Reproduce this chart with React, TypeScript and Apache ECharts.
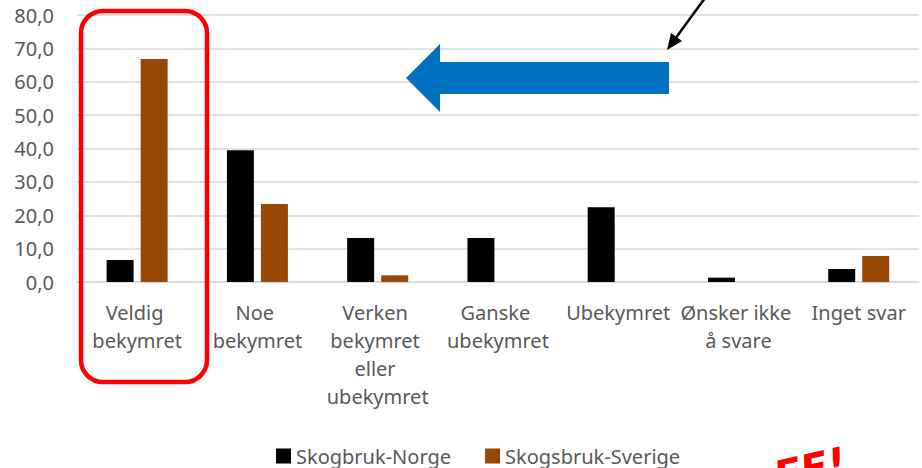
import React, { useEffect, useRef } from "react";
import * as echarts from "echarts";

const categories = [
  "Veldig bekymret",
  "Noe bekymret",
  "Verken bekymret eller ubekymret",
  "Ganske ubekymret",
  "Ubekymret",
  "Ønsker ikke å svare",
  "Inget svar",
];
const norge = [6.6, 39.5, 13.2, 13.2, 22.4, 1.3, 3.9];
const sverige = [66.8, 23.4, 2.0, null, null, null, 7.8];
const seriesNames = ["Skogbruk-Norge", "Skogsbruk-Sverige"];

const FONT = "'Noto Sans', 'Open Sans', sans-serif";
const TEXT = "#595959";

export default function App() {
  const ref = useRef<HTMLDivElement>(null);
  useEffect(() => {
    if (!ref.current) return;
    const chart = echarts.init(ref.current, null, { renderer: "svg" });
    chart.setOption({
      animation: false,
      textStyle: { fontFamily: FONT },
      grid: { left: 77, right: 0, top: 15, bottom: 186 },
      legend: {
        left: 271,
        top: 441,
        itemWidth: 15,
        itemHeight: 15,
        itemGap: 34,
        icon: "rect",
        textStyle: { fontSize: 20, color: TEXT, fontFamily: FONT },
        data: seriesNames,
      },
      xAxis: {
        type: "category",
        data: categories,
        axisLine: { lineStyle: { color: "#d9d9d9", width: 1.5 } },
        axisTick: { show: false },
        axisLabel: {
          interval: 0,
          fontSize: 20,
          lineHeight: 28,
          color: TEXT,
          margin: 16,
          width: 121,
          overflow: "break",
          fontFamily: FONT,
        },
      },
      yAxis: {
        type: "value",
        min: 0,
        max: 80,
        interval: 10,
        axisLine: { show: false },
        axisTick: { show: false },
        splitLine: { lineStyle: { color: "#d9d9d9", width: 1.5 } },
        axisLabel: {
          fontSize: 20,
          color: TEXT,
          margin: 23,
          fontFamily: FONT,
          formatter: (v: number) => v.toFixed(1).replace(".", ","),
        },
      },
      series: [
        {
          name: seriesNames[0],
          type: "bar",
          data: norge,
          barWidth: 27,
          barGap: "26%",
          itemStyle: { color: "#000000" },
        },
        {
          name: seriesNames[1],
          type: "bar",
          data: sverige,
          barWidth: 27,
          itemStyle: { color: "#974706" },
        },
      ],
      graphic: [
        {
          type: "rect",
          shape: { x: 81, y: 11, width: 126, height: 371, r: 22 },
          style: { fill: "none", stroke: "#ff0000", lineWidth: 4.5 },
          z: 100,
        },
        {
          type: "polygon",
          shape: {
            points: [
              [406, 78],
              [440, 44],
              [440, 62],
              [669, 62],
              [669, 94],
              [440, 94],
              [440, 112],
            ],
          },
          style: { fill: "#0070C0" },
          z: 100,
        },
        {
          type: "line",
          shape: { x1: 705, y1: -2, x2: 675, y2: 39 },
          style: { stroke: "#000", lineWidth: 2.5 },
          z: 100,
        },
        {
          type: "polygon",
          shape: {
            points: [
              [667, 50],
              [682, 41],
              [671, 33],
            ],
          },
          style: { fill: "#000" },
          z: 100,
        },
        {
          type: "text",
          x: 770,
          y: 457,
          rotation: 0.22,
          style: {
            text: "FF!",
            fill: "#ff0000",
            font: "bold italic 40px 'DejaVu Sans', sans-serif",
            textVerticalAlign: "top",
          },
          z: 100,
        },
      ],
    });
    return () => chart.dispose();
  }, []);
  return (
    <div
      ref={ref}
      style={{ position: "absolute", left: 0, top: 0, width: 922, height: 468 }}
    />
  );
}
